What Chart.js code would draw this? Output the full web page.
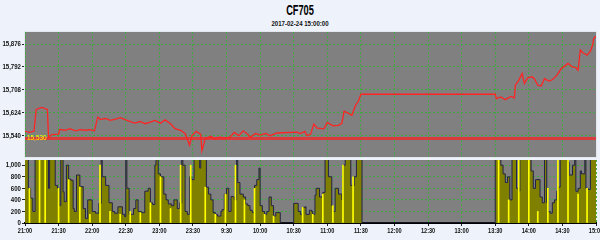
<!DOCTYPE html>
<html lang="zh-CN">

<head>
    <meta charset="UTF-8">
    <script src="https://cdn.jsdelivr.net/npm/chart.js"></script>
    <title>CF705</title>
    <style>
        body {
            margin: 0;
            width: 600px;
            height: 240px;
            overflow: hidden;
            position: relative;
            background: #eef3fb;
            font-family: 'Liberation Sans', sans-serif;
        }

        #titulo {
            position: absolute;
            left: 0;
            top: 2px;
            width: 600px;
            text-align: center;
            font-size: 14px;
            line-height: 16px;
            font-weight: bold;
            color: #000;
            transform: scaleX(0.66);
        }

        #subtitulo {
            position: absolute;
            left: 0;
            top: 19px;
            width: 600px;
            text-align: center;
            font-size: 8px;
            line-height: 10px;
            font-weight: bold;
            color: #111;
            transform: scaleX(0.76);
        }

        canvas {
            position: absolute;
            left: 0;
        }

        #graficoPreco {
            top: 0;
        }

        #graficoVolume {
            top: 158px;
        }
    </style>
</head>

<body>
    <div id="titulo">CF705</div>
    <div id="subtitulo">2017-02-24 15:00:00</div>
    <canvas id="graficoPreco" width="600" height="158"></canvas>
    <canvas id="graficoVolume" width="600" height="82"></canvas>

<script>
    // eixo x em minutos de pregao (21:00 = 0, 23:30 = 9:00 = 150, 15:00 = 510)
    const rotulosHora = ['21:00', '21:30', '22:00', '22:30', '23:00', '23:30', '9:30', '10:00', '10:30',
        '11:00', '11:30', '12:00', '12:30', '13:00', '13:30', '14:00', '14:30', '15:00'];

    const precoTempo = [0, 4, 8, 10, 15, 20, 21, 24, 30, 31, 36, 40, 45, 49, 54, 58, 62, 65, 67, 72, 76, 81, 85, 90,
        94, 98, 103, 107, 112, 116, 121, 125, 130, 134, 139, 143, 147, 149, 153, 157, 158, 161, 166, 170, 174, 179,
        183, 187, 191, 195, 199, 201, 206, 210, 215, 219, 225, 243, 246, 250, 252, 255, 258, 261, 267, 270, 275,
        280, 283, 285, 289, 292, 295, 298, 300, 420, 421, 425, 429, 434, 437, 438, 441, 444, 446, 449, 453, 455,
        458, 461, 464, 468, 471, 475, 479, 482, 485, 489, 492, 494, 496, 498, 502, 505, 507, 508, 510];
    const precoValor = [15556, 15552, 15556, 15636, 15644, 15636, 15534, 15544, 15546, 15563, 15560, 15566, 15558,
        15562, 15560, 15562, 15558, 15608, 15600, 15603, 15596, 15601, 15606, 15598, 15592, 15586, 15592, 15584,
        15590, 15596, 15586, 15598, 15584, 15566, 15560, 15548, 15505, 15540, 15556, 15545, 15485, 15530, 15538,
        15528, 15535, 15530, 15535, 15552, 15540, 15558, 15545, 15534, 15548, 15542, 15548, 15540, 15550, 15553,
        15548, 15556, 15540, 15545, 15583, 15568, 15565, 15589, 15576, 15578, 15585, 15630, 15622, 15615, 15650,
        15668, 15692, 15692, 15676, 15682, 15672, 15684, 15678, 15725, 15743, 15768, 15731, 15752, 15756, 15748,
        15725, 15722, 15749, 15740, 15745, 15761, 15786, 15795, 15805, 15792, 15790, 15780, 15854, 15845, 15835,
        15850, 15872, 15897, 15904];

    const linhaRef = 15530;
    const ticksPreco = [15540, 15624, 15708, 15792, 15876];

    const volumeTempo = [0, 3, 5, 7, 9, 21, 22, 27, 29, 31, 32, 34, 35, 37, 39, 41, 43, 44, 46, 49, 52, 54, 56, 60,
        63, 66, 68, 69, 72, 75, 78, 80, 83, 87, 89, 90, 91, 93, 97, 99, 101, 104, 107, 110, 112, 114, 116, 117, 119,
        121, 124, 126, 128, 131, 133, 136, 138, 140, 141, 143, 145, 147, 149, 151, 156, 157, 162, 164, 166, 168,
        170, 172, 175, 176, 178, 180, 182, 184, 186, 187, 189, 190, 192, 195, 197, 199, 201, 203, 205, 207, 209,
        210, 212, 214, 216, 218, 220, 222, 224, 228, 240, 244, 246, 248, 250, 251, 254, 256, 257, 259, 260, 263,
        266, 268, 269, 271, 274, 275, 277, 280, 283, 284, 286, 291, 294, 296, 301, 420, 425, 427, 429, 431, 433,
        435, 437, 439, 441, 442, 446, 450, 452, 454, 456, 460, 462, 464, 466, 467, 469, 471, 473, 475, 476, 478,
        485, 486, 489, 491, 492, 494, 496, 497, 500, 501, 503, 505, 510];
    const volumeValor = [1200, 600, 430, 200, 1200, 600, 1200, 650, 600, 300, 1200, 540, 370, 1000, 760, 740, 250,
        200, 830, 630, 250, 80, 400, 200, 170, 340, 1100, 800, 650, 350, 200, 170, 280, 150, 110, 1200, 600, 150,
        250, 400, 200, 180, 550, 600, 350, 320, 1000, 1200, 850, 800, 500, 400, 330, 300, 400, 250, 350, 1100, 1000,
        200, 150, 800, 750, 1200, 950, 1200, 620, 500, 400, 180, 150, 120, 200, 230, 500, 600, 200, 460, 450, 400,
        1200, 700, 500, 450, 330, 300, 220, 180, 650, 750, 950, 300, 200, 150, 200, 450, 300, 120, 180, 0, 340, 200,
        150, 270, 280, 150, 220, 200, 150, 480, 600, 450, 530, 1200, 1100, 800, 300, 200, 600, 500, 400, 1000, 1200,
        650, 800, 1200, 0, 1200, 1000, 850, 700, 800, 400, 1100, 1200, 600, 550, 1200, 1100, 1200, 900, 600, 750,
        450, 350, 1100, 350, 200, 170, 350, 400, 550, 620, 1200, 1050, 830, 1000, 1100, 550, 600, 900, 850, 1200,
        600, 580, 1200, 1200];

    // barras amarelas finas
    const marcaTempo = [4, 13, 18, 30, 39, 49, 58, 67, 76, 85, 94, 103, 112, 121, 130, 139, 148, 161, 170, 179, 188,
        196, 205, 214, 222, 248, 257, 266, 275, 284, 293, 423, 432, 441, 450, 458, 467, 476, 485, 494, 502];
    const marcaValor = [600, 1200, 1200, 600, 750, 620, 150, 1000, 200, 150, 200, 180, 350, 800, 250, 1000, 1000,
        620, 150, 500, 1000, 400, 600, 150, 120, 270, 150, 500, 300, 1000, 800, 1200, 400, 1200, 1200, 200, 600,
        1200, 1200, 500, 600];

    const ticksVolume = [0, 200, 400, 600, 800, 1000];

    const verde = 'rgba(60,170,60,0.95)';
    const fonteRotulo = "bold 8px 'Liberation Sans', sans-serif";

    function pares(xs, ys) {
        return xs.map((x, i) => ({ x: x, y: ys[i] }));
    }

    function formatarNumero(v) {
        return v.toLocaleString('en-US');
    }

    // texto estreito (a fonte original e bem condensada)
    function textoEstreito(ctx, texto, x, y, escala) {
        ctx.save();
        ctx.translate(x, y);
        ctx.scale(escala, 1);
        ctx.fillText(texto, 0, 0);
        ctx.restore();
    }

    const fundoPainel = {
        id: 'fundoPainel',
        beforeDraw(chart) {
            const a = chart.chartArea;
            const ctx = chart.ctx;
            ctx.save();
            ctx.fillStyle = '#808080';
            ctx.fillRect(a.left, a.top, a.right - a.left, a.bottom - a.top);
            ctx.restore();
        }
    };

    const bordaClara = {
        id: 'bordaClara',
        afterDraw(chart) {
            const a = chart.chartArea;
            const ctx = chart.ctx;
            ctx.save();
            ctx.strokeStyle = '#e4e8ee';
            ctx.lineWidth = 1;
            ctx.strokeRect(a.left - 0.5, a.top - 0.5, a.right - a.left + 1, a.bottom - a.top + 1);
            ctx.restore();
        }
    };

    const rotuloRef = {
        id: 'rotuloRef',
        afterDatasetsDraw(chart) {
            const y = chart.scales.y.getPixelForValue(linhaRef);
            const ctx = chart.ctx;
            ctx.save();
            ctx.fillStyle = '#ffff00';
            ctx.font = "8px 'Liberation Sans', sans-serif";
            ctx.textBaseline = 'bottom';
            textoEstreito(ctx, formatarNumero(linhaRef), chart.chartArea.left + 2, y + 3, 0.8);
            ctx.restore();
        }
    };

    const rotulosEixo = {
        id: 'rotulosEixo',
        afterDraw(chart, args, opcoes) {
            const ctx = chart.ctx;
            const eixoY = chart.scales.y;
            ctx.save();
            ctx.fillStyle = '#111';
            ctx.font = fonteRotulo;
            ctx.textAlign = 'right';
            ctx.textBaseline = 'middle';
            eixoY.ticks.forEach(t => {
                textoEstreito(ctx, formatarNumero(t.value), eixoY.right - 4, eixoY.getPixelForValue(t.value), 0.76);
            });
            if (opcoes.mostrarX) {
                const eixoX = chart.scales.x;
                ctx.textAlign = 'center';
                ctx.textBaseline = 'top';
                eixoX.ticks.forEach(t => {
                    textoEstreito(ctx, rotulosHora[Math.round(t.value / 30)], eixoX.getPixelForValue(t.value), chart.chartArea.bottom + 4, 0.7);
                });
            }
            ctx.restore();
        }
    };

    function eixoX(mostrarRotulos) {
        return {
            type: 'linear',
            min: 0,
            max: 510,
            offset: false,
            afterBuildTicks: eixo => { eixo.ticks = rotulosHora.map((r, i) => ({ value: i * 30 })); },
            afterFit: eixo => { eixo.height = mostrarRotulos ? 17 : 0; },
            ticks: { display: false },
            grid: { color: verde, lineWidth: 1, drawTicks: mostrarRotulos, tickLength: 3, tickColor: '#222', tickBorderDash: [], offset: false },
            border: mostrarRotulos ? { display: true, color: '#000', width: 2, dash: [2, 2] } : { display: false, dash: [2, 2] }
        };
    }

    function eixoY(min, max, valores) {
        return {
            min: min,
            max: max,
            afterBuildTicks: eixo => { eixo.ticks = valores.map(v => ({ value: v })); },
            afterFit: eixo => { eixo.width = 25; },
            ticks: { display: false },
            grid: { color: verde, lineWidth: 1, tickLength: 3, tickColor: '#222', tickBorderDash: [] },
            border: { display: false, dash: [2, 2] }
        };
    }

    new Chart(document.getElementById('graficoPreco'), {
        type: 'line',
        data: {
            datasets: [
                {
                    data: pares(precoTempo, precoValor),
                    borderColor: '#ff2424',
                    borderWidth: 1.3,
                    pointRadius: 0,
                    tension: 0,
                    order: 0
                },
                {
                    data: [{ x: 0, y: linhaRef }, { x: 510, y: linhaRef }],
                    borderColor: '#d83c3c',
                    borderWidth: 3,
                    pointRadius: 0,
                    order: 1
                }
            ]
        },
        options: {
            responsive: false,
            animation: false,
            layout: { padding: { top: 32, right: 4, bottom: 1, left: 0 } },
            plugins: { legend: { display: false }, tooltip: { enabled: false }, rotulosEixo: { mostrarX: false } },
            scales: {
                x: eixoX(false),
                y: eixoY(15462, 15920, ticksPreco)
            }
        },
        plugins: [fundoPainel, rotuloRef, bordaClara, rotulosEixo]
    });

    new Chart(document.getElementById('graficoVolume'), {
        type: 'line',
        data: {
            datasets: [
                {
                    type: 'bar',
                    data: pares(marcaTempo, marcaValor),
                    backgroundColor: '#ffff00',
                    barThickness: 1,
                    order: 0
                },
                {
                    data: pares(volumeTempo, volumeValor),
                    stepped: 'before',
                    fill: 'origin',
                    backgroundColor: '#808000',
                    borderColor: '#22224a',
                    borderWidth: 1,
                    pointRadius: 0,
                    clip: 0,
                    order: 1
                }
            ]
        },
        options: {
            responsive: false,
            animation: false,
            layout: { padding: { top: 2, right: 4, bottom: 0, left: 0 } },
            plugins: { legend: { display: false }, tooltip: { enabled: false }, rotulosEixo: { mostrarX: true } },
            scales: {
                x: eixoX(true),
                y: eixoY(0, 1090, ticksVolume)
            }
        },
        plugins: [fundoPainel, rotulosEixo]
    });
</script>
</body>

</html>
